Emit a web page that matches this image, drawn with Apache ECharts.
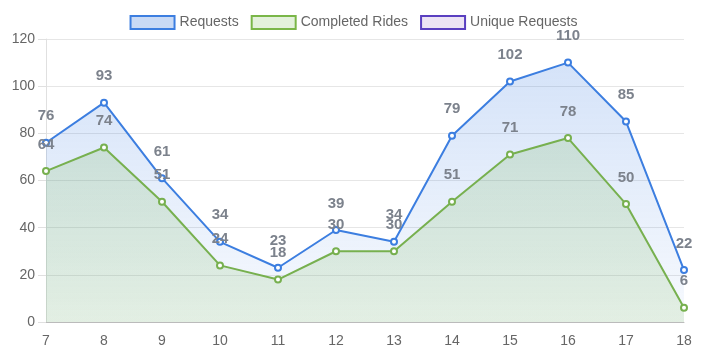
<!DOCTYPE html>
<html>
<head>
<meta charset="utf-8">
<script src="https://cdn.jsdelivr.net/npm/echarts@6/dist/echarts.min.js"></script>
<style>
  html, body { margin: 0; padding: 0; background: #fff; }
  #chart { width: 707px; height: 352px; }
</style>
</head>
<body>
<div id="chart"></div>
<script>
// Hour of day
const hours = ['7', '8', '9', '10', '11', '12', '13', '14', '15', '16', '17', '18'];
// Ride requests and completed rides per hour
const requests = [76, 93, 61, 34, 23, 39, 34, 79, 102, 110, 85, 22];
const completedRides = [64, 74, 51, 24, 18, 30, 30, 51, 71, 78, 50, 6];
const uniqueRequests = [];
const seriesNames = ['Requests', 'Completed Rides', 'Unique Requests'];

const FONT = "'Liberation Sans', Arial, sans-serif";
const labelStyle = {
  show: true,
  position: 'top',
  distance: 15,
  color: '#7c828c',
  fontFamily: FONT,
  fontSize: 15,
  fontWeight: 'bold'
};

const chart = echarts.init(document.getElementById('chart'));
chart.setOption({
  animation: false,
  textStyle: { fontFamily: FONT },
  legend: {
    top: 10,
    left: 'center',
    itemWidth: 44,
    itemHeight: 13,
    itemGap: 12,
    icon: 'rect',
    textStyle: { color: '#666', fontSize: 14, fontFamily: FONT },
    data: [
      { name: seriesNames[0], itemStyle: { color: '#c9daf5', borderColor: '#3c7ee0', borderWidth: 2 } },
      { name: seriesNames[1], itemStyle: { color: '#e3f1db', borderColor: '#7ab648', borderWidth: 2 } },
      { name: seriesNames[2], itemStyle: { color: '#ece3f4', borderColor: '#5a3fc0', borderWidth: 2 } }
    ]
  },
  grid: { left: 46, right: 23, top: 39, bottom: 30, containLabel: false },
  xAxis: {
    type: 'category',
    data: hours,
    boundaryGap: false,
    axisLine: { show: true, lineStyle: { color: '#bbb' } },
    axisTick: { show: false },
    axisLabel: { color: '#666', fontSize: 14, fontFamily: FONT, margin: 12 },
    splitLine: { show: false }
  },
  yAxis: {
    type: 'value',
    min: 0,
    max: 120,
    interval: 20,
    axisLine: { show: true, lineStyle: { color: '#e0e0e0' } },
    axisTick: { show: true, length: 8, lineStyle: { color: '#e0e0e0' } },
    axisLabel: { color: '#666', fontSize: 14, fontFamily: FONT, margin: 11 },
    splitLine: { show: true, lineStyle: { color: '#e6e6e6' } }
  },
  series: [
    {
      name: seriesNames[0],
      type: 'line',
      data: requests,
      z: 2,
      symbol: 'emptyCircle',
      symbolSize: 6,
      lineStyle: { color: '#3c7ee0', width: 2 },
      itemStyle: { color: '#3c7ee0', borderWidth: 2 },
      areaStyle: {
        color: {
          type: 'linear', x: 0, y: 0, x2: 0, y2: 1,
          colorStops: [
            { offset: 0, color: 'rgba(60,125,225,0.31)' },
            { offset: 1, color: 'rgba(60,125,225,0.06)' }
          ]
        }
      },
      label: labelStyle
    },
    {
      name: seriesNames[1],
      type: 'line',
      data: completedRides,
      z: 3,
      symbol: 'emptyCircle',
      symbolSize: 6,
      lineStyle: { color: '#77b04f', width: 2 },
      itemStyle: { color: '#77b04f', borderWidth: 2 },
      areaStyle: {
        color: {
          type: 'linear', x: 0, y: 0, x2: 0, y2: 1,
          colorStops: [
            { offset: 0, color: 'rgba(120,180,90,0.30)' },
            { offset: 1, color: 'rgba(125,185,95,0.24)' }
          ]
        }
      },
      label: labelStyle
    },
    {
      name: seriesNames[2],
      type: 'line',
      data: uniqueRequests,
      symbol: 'emptyCircle',
      lineStyle: { color: '#5a3fc0', width: 2 },
      itemStyle: { color: '#5a3fc0' },
      areaStyle: { color: 'rgba(150,110,200,0.2)' }
    }
  ]
});
</script>
</body>
</html>
